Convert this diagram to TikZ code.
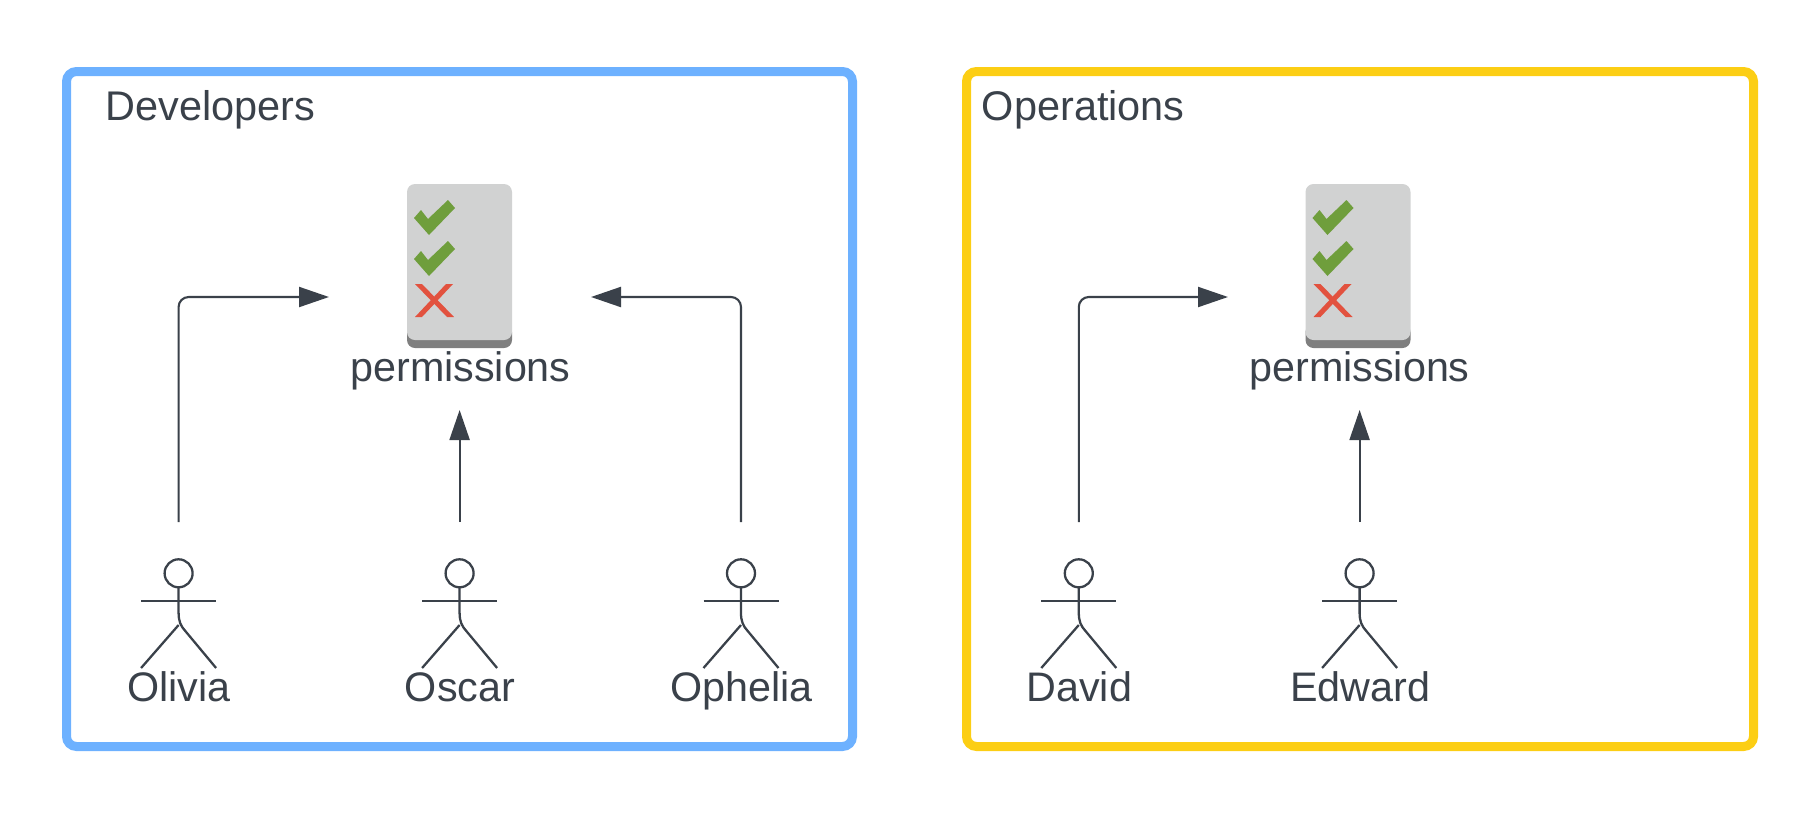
\documentclass[tikz,border=0pt]{standalone}
\usepackage{fontspec}
\setmainfont{Liberation Sans}
\usetikzlibrary{arrows.meta}
\definecolor{devblue}{HTML}{6DB1FF}
\definecolor{opsyellow}{HTML}{FCCE14}
\definecolor{inkgrey}{HTML}{3A414A}
\definecolor{sheetgrey}{HTML}{D1D2D2}
\definecolor{sheetdark}{HTML}{7F7F7F}
\definecolor{tickgreen}{HTML}{6F9E3C}
\definecolor{crossred}{HTML}{E2523F}
\tikzset{
  groupbox/.style={line width=9*0.02cm,rounded corners=10*0.02cm},
  grouptitle/.style={anchor=base west,inner sep=0pt,text=inkgrey,font=\fontsize{23.6}{26}\selectfont},
  actorlabel/.style={anchor=base,inner sep=0pt,text=inkgrey,font=\fontsize{23.5}{26}\selectfont},
  stick/.style={draw=inkgrey,line width=1.3pt},
  link/.style={draw=inkgrey,line width=1.2pt,rounded corners=10*0.02cm,-{Triangle[length=30*0.02cm,width=20*0.02cm]}}
}
\begin{document}
\begin{tikzpicture}[x=0.02cm,y=-0.02cm]
  \useasboundingbox (0,0) rectangle (1813,822);
  % boxes
  \draw[groupbox,draw=devblue] (66.5,71.5) rectangle (852.5,746.5);
  \draw[groupbox,draw=opsyellow] (966.5,71.5) rectangle (1753.5,746.5);
  \node[grouptitle] (developers) at (105,120) {Developers};
  \node[grouptitle] (operations) at (981.5,120) {Operations};
  % permission sheets
  \begin{scope}[shift={(407,184)}]
   \fill[sheetdark,rounded corners=8*0.02cm] (0,140) rectangle (105,164);
   \fill[sheetgrey,rounded corners=8*0.02cm] (0,0) rectangle (105,156);
   \fill[tickgreen] (7,34) -- (22,51) -- (48,24) -- (41,16) -- (21,35) -- (14,26) -- cycle;
   \fill[tickgreen] (7,75) -- (22,92) -- (48,65) -- (41,57) -- (21,76) -- (14,67) -- cycle;
   \fill[crossred] (8,100) -- (15,100) -- (47,133) -- (40,133) -- cycle;
   \fill[crossred] (39,100) -- (46,100) -- (15,133) -- (8,133) -- cycle;
  \end{scope}
  \begin{scope}[shift={(1305.5,184)}]
   \fill[sheetdark,rounded corners=8*0.02cm] (0,140) rectangle (105,164);
   \fill[sheetgrey,rounded corners=8*0.02cm] (0,0) rectangle (105,156);
   \fill[tickgreen] (7,34) -- (22,51) -- (48,24) -- (41,16) -- (21,35) -- (14,26) -- cycle;
   \fill[tickgreen] (7,75) -- (22,92) -- (48,65) -- (41,57) -- (21,76) -- (14,67) -- cycle;
   \fill[crossred] (8,100) -- (15,100) -- (47,133) -- (40,133) -- cycle;
   \fill[crossred] (39,100) -- (46,100) -- (15,133) -- (8,133) -- cycle;
  \end{scope}
  \node[actorlabel] (permdev) at (460.5,381) {permissions};
  \node[actorlabel] (permops) at (1359.5,381) {permissions};
  % actors
  \begin{scope}[shift={(178.6,1)}]
   \draw[stick] (0,572.3) circle (14);
   \draw[stick] (0,586) -- (0,612) .. controls (0,620) and (2,625) .. (6.7,630) -- (37.5,667);
   \draw[stick] (-37.5,600) -- (37.5,600);
   \draw[stick] (0,624) -- (-37.5,667);
  \end{scope}
  \begin{scope}[shift={(459.6,1)}]
   \draw[stick] (0,572.3) circle (14);
   \draw[stick] (0,586) -- (0,612) .. controls (0,620) and (2,625) .. (6.7,630) -- (37.5,667);
   \draw[stick] (-37.5,600) -- (37.5,600);
   \draw[stick] (0,624) -- (-37.5,667);
  \end{scope}
  \begin{scope}[shift={(741,1)}]
   \draw[stick] (0,572.3) circle (14);
   \draw[stick] (0,586) -- (0,612) .. controls (0,620) and (2,625) .. (6.7,630) -- (37.5,667);
   \draw[stick] (-37.5,600) -- (37.5,600);
   \draw[stick] (0,624) -- (-37.5,667);
  \end{scope}
  \begin{scope}[shift={(1078.8,1)}]
   \draw[stick] (0,572.3) circle (14);
   \draw[stick] (0,586) -- (0,612) .. controls (0,620) and (2,625) .. (6.7,630) -- (37.5,667);
   \draw[stick] (-37.5,600) -- (37.5,600);
   \draw[stick] (0,624) -- (-37.5,667);
  \end{scope}
  \begin{scope}[shift={(1359.6,1)}]
   \draw[stick] (0,572.3) circle (14);
   \draw[stick] (0,586) -- (0,612) .. controls (0,620) and (2,625) .. (6.7,630) -- (37.5,667);
   \draw[stick] (-37.5,600) -- (37.5,600);
   \draw[stick] (0,624) -- (-37.5,667);
  \end{scope}
  \node[actorlabel] (olivia) at (179,701.5) {Olivia};
  \node[actorlabel] (oscar) at (460,701.5) {Oscar};
  \node[actorlabel] (ophelia) at (741.5,701.5) {Ophelia};
  \node[actorlabel] (david) at (1079.3,701.5) {David};
  \node[actorlabel] (edward) at (1360,701.5) {Edward};
  % connector ends
  \coordinate (oliviaout) at (178.6,522);
  \coordinate (oscarout) at (459.6,522);
  \coordinate (opheliaout) at (741,522);
  \coordinate (davidout) at (1078.8,522);
  \coordinate (edwardout) at (1359.6,522);
  \coordinate (devwest) at (329,297);
  \coordinate (devsouth) at (459.6,410);
  \coordinate (deveast) at (591,297);
  \coordinate (opswest) at (1228,297);
  \coordinate (opssouth) at (1359.6,410);
  % connectors
  \draw[link] (oliviaout) |- (devwest);
  \draw[link] (oscarout) -- (devsouth);
  \draw[link] (opheliaout) |- (deveast);
  \draw[link] (davidout) |- (opswest);
  \draw[link] (edwardout) -- (opssouth);
\end{tikzpicture}
\end{document}
